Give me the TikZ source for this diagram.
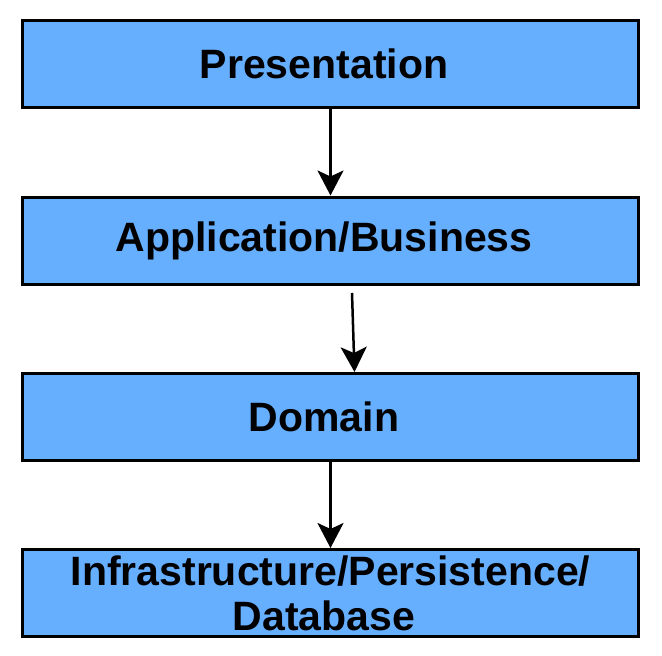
\documentclass[tikz,border=0pt]{standalone}
\usepackage{fontspec}
\setmainfont{Liberation Sans}
\usetikzlibrary{arrows.meta}
\definecolor{layerblue}{HTML}{66AFFF}
\newcommand{\lft}{\hspace*{-13pt}}
\tikzset{
  layer/.style={draw=black, line width=3pt, fill=layerblue, minimum width=616pt,
    minimum height=87pt, inner sep=0pt, align=center,
    font=\bfseries\fontsize{41}{45}\selectfont},
  flow/.style={draw=black, line width=2.5pt,
    -{Stealth[length=25pt, width=26pt, inset=6pt]}}
}
\begin{document}
\begin{tikzpicture}[x=1pt, y=-1pt]
\useasboundingbox (0,0) rectangle (662,656);
\node[layer] (b1) at (330.5,64) {\lft Presentation};
\node[layer] (b2) at (330.5,240.5) {\lft Application/Business};
\node[layer] (b3) at (330.5,417) {\lft Domain};
\node[layer] (b4) at (330.5,593) {Infrastructure/Persistence/\\\lft Database};
\coordinate (s2) at (352,293);
\coordinate (e2) at (354.5,372);
\draw[flow] (b1.south) -- (b2.north);
\draw[flow] (s2) -- (e2);
\draw[flow] (b3.south) -- (b4.north);
\end{tikzpicture}
\end{document}
